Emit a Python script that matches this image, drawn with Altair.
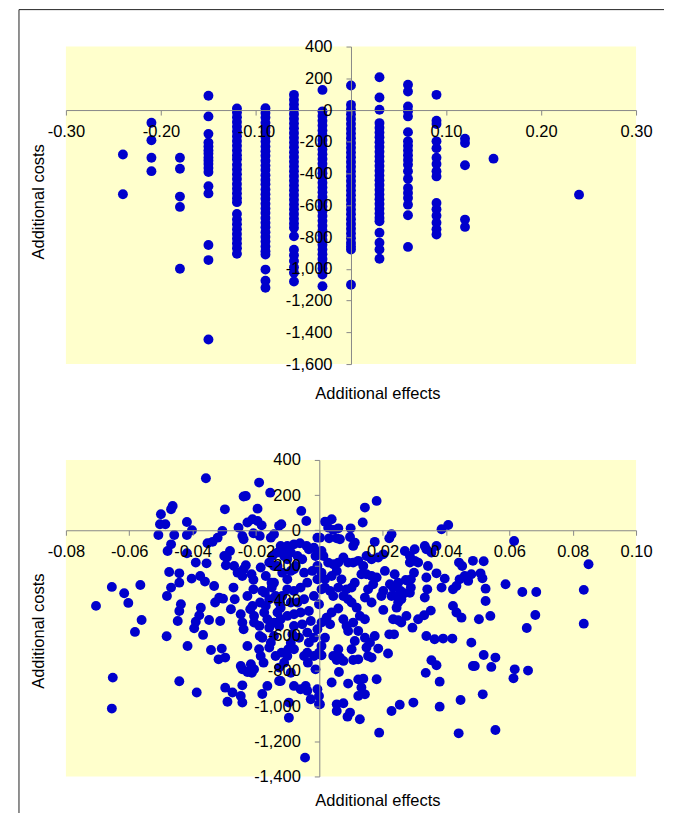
import altair as alt
import pandas as pd

FONT = "Liberation Sans"
BLUE = "#0000CC"
PLOT_BG = "#FFFFCC"
AXIS_GREY = "#888888"

# ---------------- top panel: effects take discrete values ----------------
top_effect_levels = [-0.24, -0.21, -0.18, -0.15, -0.12, -0.09, -0.06, -0.03,
                     0.00, 0.03, 0.06, 0.09, 0.12, 0.15, 0.24]
costs_at_m024 = [-280, -530]
costs_at_m021 = [-80, -190, -300, -385]
costs_at_m018 = [-300, -370, -545, -610, -1000]
costs_at_m015 = [90, -40, -150, -205, -230, -255, -275, -300, -320, -340, -365, -390,
                 -480, -525, -850, -945, -1445]
costs_at_m012 = [10, -15, -45, -75, -105, -135, -165, -195, -225, -255, -285, -310,
                 -345, -375, -405, -435, -465, -495, -525, -555, -580, -655, -690,
                 -720, -750, -780, -810, -840, -870, -905]
costs_at_m009 = [12, -18, -47, -80, -110, -138, -170, -198, -230, -260, -288, -320,
                 -350, -378, -410, -440, -468, -500, -530, -558, -590, -620, -648,
                 -680, -710, -738, -770, -800, -828, -860, -890, -910, -1005, -1075,
                 -1120]
costs_at_m006 = [96, 65, 35, 5, -25, -55, -85, -115, -145, -175, -205, -235, -265,
                 -295, -325, -355, -385, -415, -445, -475, -505, -535, -565, -595,
                 -625, -655, -685, -715, -742, -795, -880, -915, -950, -990, -1025,
                 -1080]
costs_at_m003 = [127, -8, -38, -68, -98, -128, -158, -188, -218, -248, -278, -308,
                 -338, -368, -398, -428, -458, -488, -518, -548, -578, -608, -638,
                 -668, -698, -728, -758, -788, -818, -848, -878, -908, -938, -968,
                 -998, -1036, -1110]
costs_at_000 = [155, 33, 3, -27, -57, -87, -117, -147, -177, -207, -237, -267, -297,
                -327, -357, -387, -417, -447, -477, -507, -537, -567, -597, -627,
                -657, -687, -717, -747, -777, -807, -837, -860, -879, -1100]
costs_at_p003 = [207, 79, 2, -82, -112, -142, -172, -202, -232, -262, -292, -322,
                 -352, -382, -412, -442, -472, -502, -532, -562, -592, -622, -652,
                 -680, -700, -773, -836, -878, -937]
costs_at_p006 = [159, 117, 23, -8, -40, -139, -197, -225, -255, -285, -315, -345,
                 -386, -432, -491, -522, -554, -596, -663, -862]
costs_at_p009 = [96, -67, -88, -197, -240, -300, -340, -385, -418, -585, -625, -665,
                 -710, -750, -784]
costs_at_p012 = [-181, -208, -348, -690, -736]
costs_at_p015 = [-306]
costs_at_p024 = [-533]
top_costs_by_level = [costs_at_m024, costs_at_m021, costs_at_m018, costs_at_m015,
                      costs_at_m012, costs_at_m009, costs_at_m006, costs_at_m003,
                      costs_at_000, costs_at_p003, costs_at_p006, costs_at_p009,
                      costs_at_p012, costs_at_p015, costs_at_p024]

# ---------------- bottom panel: continuous scatter ----------------
bottom_effects_neg = [
    -0.0705, -0.0655, -0.0616, -0.0603, -0.0565, -0.0561, -0.0582, -0.0652, -0.0655, -0.0482,
    -0.0442, -0.0387, -0.0416, -0.0367, -0.0358, -0.0500, -0.0503, -0.0508, -0.0468, -0.0463,
    -0.0486, -0.0458, -0.0468, -0.0479, -0.0474, -0.0442, -0.0442, -0.0468, -0.0481, -0.0437,
    -0.0442, -0.0447, -0.0418, -0.0418, -0.0402, -0.0418, -0.0390, -0.0403, -0.0376, -0.0361,
    -0.0356, -0.0374, -0.0379, -0.0390, -0.0395, -0.0348, -0.0342, -0.0353, -0.0337, -0.0321,
    -0.0332, -0.0329, -0.0313, -0.0318, -0.0308, -0.0297, -0.0304, -0.0316, -0.0306, -0.0298,
    -0.0300, -0.0295, -0.0292, -0.0282, -0.0271, -0.0267, -0.0279, -0.0297, -0.0290, -0.0274,
    -0.0269, -0.0255, -0.0258, -0.0239, -0.0243, -0.0248, -0.0243, -0.0239, -0.0239, -0.0243,
    -0.0232, -0.0239, -0.0227, -0.0232, -0.0227, -0.0218, -0.0227, -0.0248, -0.0243, -0.0227,
    -0.0243, -0.0248, -0.0243, -0.0211, -0.0195, -0.0182, -0.0208, -0.0214, -0.0208, -0.0208,
    -0.0211, -0.0206, -0.0206, -0.0195, -0.0190, -0.0188, -0.0189, -0.0188, -0.0190, -0.0185,
    -0.0176, -0.0206, -0.0216, -0.0213, -0.0180, -0.0164, -0.0185, -0.0180, -0.0155, -0.0153,
    -0.0143, -0.0127, -0.0120, -0.0169, -0.0158, -0.0150, -0.0143, -0.0164, -0.0158, -0.0143,
    -0.0132, -0.0153, -0.0143, -0.0127, -0.0138, -0.0127, -0.0122, -0.0148, -0.0132, -0.0122,
    -0.0111, -0.0101, -0.0132, -0.0117, -0.0101, -0.0080, -0.0127, -0.0119, -0.0111, -0.0101,
    -0.0090, -0.0080, -0.0098, -0.0090, -0.0080, -0.0096, -0.0096, -0.0057, -0.0041, -0.0061,
    -0.0040, -0.0017, -0.0006, -0.0045, -0.0043, -0.0038, -0.0027, -0.0001, -0.0038, -0.0036,
    -0.0033, -0.0017, -0.0001, -0.0080, -0.0090, -0.0106, -0.0069, -0.0054, -0.0033, -0.0012,
    -0.0006, -0.0075, -0.0090, -0.0048, -0.0022, -0.0006, -0.0038, -0.0059, -0.0080, -0.0101,
    -0.0117, -0.0090, -0.0069, -0.0048, -0.0017, -0.0001, -0.0033, -0.0059, -0.0080, -0.0101,
    -0.0122, -0.0080, -0.0054, -0.0027, -0.0006, -0.0038, -0.0064, -0.0085, -0.0017, -0.0012,
    -0.0048, -0.0101, -0.0143, -0.0158, -0.0169, -0.0151, -0.0172, -0.0187, -0.0174, -0.0180,
    -0.0158, -0.0138, -0.0127, -0.0122, -0.0059, -0.0006, -0.0001,
]
bottom_costs_neg = [
    -430, -322, -358, -413, -311, -510, -578, -838, -1014, -603,
    -859, -923, -658, -595, 296, 91, 34, -27, 119, 138,
    34, -27, -80, -118, -237, -245, -298, -326, -374, -421,
    -459, -516, 47, -27, 0, -131, -184, -275, -260, -292,
    -188, -440, -484, -520, -557, -510, -681, -74, -66, -42,
    -317, -411, -516, -734, -673, -724, -389, -383, -4, 119,
    -146, -199, -155, -118, -326, -392, -449, -895, -975, -923,
    -203, 15, -241, -222, -260, -478, -525, -563, -51, -32,
    195, 192, 44, -199, -374, -449, -658, -772, -791, -806,
    -882, -942, -980, 63, 53, 28, -17, -250, -282, -336,
    -430, -487, -525, 123, 271, -32, -544, -601, -677, -715,
    -753, -791, -762, -810, -931, -885, -212, -345, 214, -42,
    -23, 25, 34, -430, -392, -326, -298, -506, -554, -525,
    -468, -639, -601, -544, -374, -411, -440, -146, -127, -89,
    -146, -165, -203, -241, -279, -222, -857, -696, -753, -715,
    -639, -677, -677, -810, -885, -980, -1066, 110, 53, -74,
    -89, -99, -42, -1293, -885, -913, -961, -990, -696, -753,
    -639, -715, -696, -80, -127, -118, -146, -165, -108, -146,
    -203, -203, -231, -241, -231, -279, -298, -326, -345, -336,
    -374, -411, -411, -392, -374, -421, -459, -468, -478, -487,
    -506, -544, -535, -516, -563, -582, -611, -592, -611, -791,
    -715, -89, -203, -184, -260, -298, -355, -411, -468, -611,
    -667, -715, -781, -857, -904, -904, -942,
]
bottom_effects_pos = [
    0.0850, 0.0835, 0.0835, 0.0685, 0.0682, 0.0655, 0.0641, 0.0659, 0.0617, 0.0613,
    0.0615, 0.0588, 0.0556, 0.0556, 0.0543, 0.0519, 0.0516, 0.0540, 0.0504, 0.0525,
    0.0525, 0.0485, 0.0491, 0.0480, 0.0446, 0.0440, 0.0380, 0.0380, 0.0370, 0.0354,
    0.0336, 0.0297, 0.0254, 0.0228, 0.0189, 0.0128, 0.0097, 0.0089, 0.0076, 0.0055,
    0.0055, 0.0002, 0.0039, 0.0091, 0.0123, 0.0144, 0.0133, 0.0123, 0.0139, 0.0181,
    0.0062, 0.0217, 0.0186, 0.0175, 0.0160, 0.0149, 0.0154, 0.0165, 0.0112, 0.0102,
    0.0107, 0.0123, 0.0144, 0.0060, 0.0065, 0.0076, 0.0055, 0.0044, 0.0018, 0.0007,
    0.0007, 0.0338, 0.0364, 0.0391, 0.0420, 0.0236, 0.0221, 0.0259, 0.0275, 0.0294,
    0.0312, 0.0331, 0.0352, 0.0233, 0.0249, 0.0202, 0.0422, 0.0433, 0.0449, 0.0386,
    0.0396, 0.0370, 0.0343, 0.0338, 0.0333, 0.0341, 0.0422, 0.0433, 0.0443, 0.0459,
    0.0470, 0.0480, 0.0509, 0.0515, 0.0441, 0.0451, 0.0485, 0.0519, 0.0386, 0.0407,
    0.0370, 0.0354, 0.0338, 0.0333, 0.0301, 0.0286, 0.0270, 0.0286, 0.0301, 0.0312,
    0.0299, 0.0289, 0.0280, 0.0289, 0.0286, 0.0268, 0.0259, 0.0249, 0.0244, 0.0228,
    0.0244, 0.0233, 0.0238, 0.0223, 0.0207, 0.0181, 0.0144, 0.0137, 0.0221, 0.0228,
    0.0175, 0.0202, 0.0186, 0.0165, 0.0149, 0.0112, 0.0107, 0.0099, 0.0097, 0.0060,
    0.0044, 0.0039, 0.0018, 0.0028, 0.0031, 0.0055, 0.0065, 0.0002, 0.0007, 0.0013,
    0.0028, 0.0044, 0.0060, 0.0076, 0.0091, 0.0107, 0.0123, 0.0139, 0.0133, 0.0149,
    0.0165, 0.0181, 0.0170, 0.0154, 0.0144, 0.0165, 0.0112, 0.0102, 0.0086, 0.0076,
    0.0060, 0.0044, 0.0034, 0.0018, 0.0007, 0.0091, 0.0102, 0.0118, 0.0060, 0.0039,
    0.0023, 0.0007, 0.0034, 0.0076, 0.0086, 0.0107, 0.0128, 0.0144, 0.0123, 0.0091,
    0.0007, 0.0018, 0.0039, 0.0055, 0.0070, 0.0202, 0.0196, 0.0249, 0.0273, 0.0257,
]
bottom_costs_pos = [
    -193, -339, -531, -351, -482, -556, -351, -798, -791, -842,
    -61, -307, -724, -1136, -777, -709, -933, -487, -506, -402,
    -332, -772, -772, -639, -965, -1155, -861, -1003, -768, -739,
    -811, -980, -992, -1028, -1151, -1075, -1037, -1060, -984, -990,
    -1028, -990, -866, -872, -942, -933, -894, -848, -844, -847,
    -806, -701, -673, -601, -639, -667, -715, -724, -630, -677,
    -738, -734, -611, -677, -724, -743, -738, -715, -611, -658,
    -711, -601, -620, -616, -616, -592, -592, -525, -487, -554,
    -506, -483, -457, -506, -512, -453, -430, -468, -497, -326,
    -275, -245, -203, -269, -383, -336, -336, -317, -279, -260,
    -288, -250, -245, -273, -184, -203, -174, -176, 6, 30,
    -89, -127, -108, -89, -108, -146, -118, -184, -174, -184,
    -241, -279, -288, -326, -355, -358, -392, -411, -440, -374,
    -374, -326, -250, -307, -231, 167, 129, 44, -46, -23,
    -66, -137, -155, -165, -146, -70, -89, 11, -38, 11,
    2, 63, 49, 15, -46, -46, -51, -42, -118, -146,
    -184, -193, -184, -155, -184, -184, -174, -203, -250, -250,
    -260, -269, -307, -336, -383, -411, -298, -326, -336, -374,
    -326, -374, -345, -326, -336, -392, -411, -440, -445, -468,
    -497, -525, -535, -506, -544, -525, -487, -506, -573, -573,
    -241, -279, -260, -231, -279, -345, -374, -298, -283, -345,
]

# axis ticks
top_x_ticks = [-0.30, -0.20, -0.10, 0.00, 0.10, 0.20, 0.30]
top_y_ticks = [400, 200, 0, -200, -400, -600, -800, -1000, -1200, -1400, -1600]
bottom_x_ticks = [-0.08, -0.06, -0.04, -0.02, 0.00, 0.02, 0.04, 0.06, 0.08, 0.10]
bottom_y_ticks = [400, 200, 0, -200, -400, -600, -800, -1000, -1200, -1400]

# ---------------- tables ----------------
top_rows = []
for lvl, costs in zip(top_effect_levels, top_costs_by_level):
    for c in costs:
        top_rows.append({"effect": lvl, "cost": c})
top_df = pd.DataFrame(top_rows)

bottom_df = pd.DataFrame({
    "effect": bottom_effects_neg + bottom_effects_pos,
    "cost": bottom_costs_neg + bottom_costs_pos,
})

W = 571
H_TOP = 318
H_BOT = 317

X_LABEL_EXPR = "datum.value == 0 ? '' : replace(format(datum.value, '.2f'), '\u2212', '-')"
Y_LABEL_EXPR = "replace(format(datum.value, ',.0f'), '\u2212', '-')"


def panel(df, xdom, ydom, xticks, yticks, h, x_title_y, y_title_x, y_title_y):
    x_off = -h * (0 - ydom[0]) / (ydom[1] - ydom[0])
    y_off = -W * (0 - xdom[0]) / (xdom[1] - xdom[0])
    common = dict(
        grid=False, domainColor=AXIS_GREY, tickColor=AXIS_GREY, tickSize=5,
        labelFont=FONT, labelFontSize=16.5, labelColor="black",
        labelFlush=False, labelOverlap=False,
        titleFont=FONT, titleFontSize=16.5, titleFontWeight="normal",
        titleColor="black", titleBaseline="middle", titleAlign="center",
        zindex=1,
    )
    xaxis = alt.Axis(values=xticks, orient="bottom", offset=x_off, labelPadding=8,
                     labelExpr=X_LABEL_EXPR, title="Additional effects",
                     titleX=312, titleY=x_title_y, **common)
    yaxis = alt.Axis(values=yticks, orient="left", offset=y_off, labelPadding=14,
                     labelExpr=Y_LABEL_EXPR, title="Additional costs",
                     titleAngle=270, titleX=y_title_x, titleY=y_title_y, **common)
    return alt.Chart(df).mark_circle(size=98, color=BLUE, opacity=1).encode(
        x=alt.X("effect:Q", scale=alt.Scale(domain=xdom, nice=False, zero=False), axis=xaxis),
        y=alt.Y("cost:Q", scale=alt.Scale(domain=ydom, nice=False, zero=False), axis=yaxis),
    ).properties(width=W, height=h)


top_points = panel(top_df, [-0.3, 0.3], [-1600, 400], top_x_ticks, top_y_ticks,
                   H_TOP, 283.4, -312.5, 155)
bottom_points = panel(bottom_df, [-0.08, 0.10], [-1400, 400], bottom_x_ticks, bottom_y_ticks,
                      H_BOT, 270.6, -280.8, 171)

frame = alt.Data(values=[{}])
left_border = alt.Chart(frame).mark_rule(color="#222222", strokeWidth=1).encode(
    x=alt.value(-47), y=alt.value(-37), y2=alt.value(768))
top_border = alt.Chart(frame).mark_rule(color="#222222", strokeWidth=1).encode(
    x=alt.value(-47), x2=alt.value(599), y=alt.value(-37))

top = alt.layer(top_points, left_border, top_border).properties(width=W, height=H_TOP)
bottom = alt.layer(bottom_points).properties(width=W, height=H_BOT)

chart = alt.vconcat(top, bottom, spacing=96, bounds="flush").properties(
    padding={"left": 10, "top": 0, "right": 0, "bottom": 0},
    background="white",
).configure_view(stroke=None, fill=PLOT_BG)

chart.save("out.html", embed_options={"renderer": "svg", "actions": False})
